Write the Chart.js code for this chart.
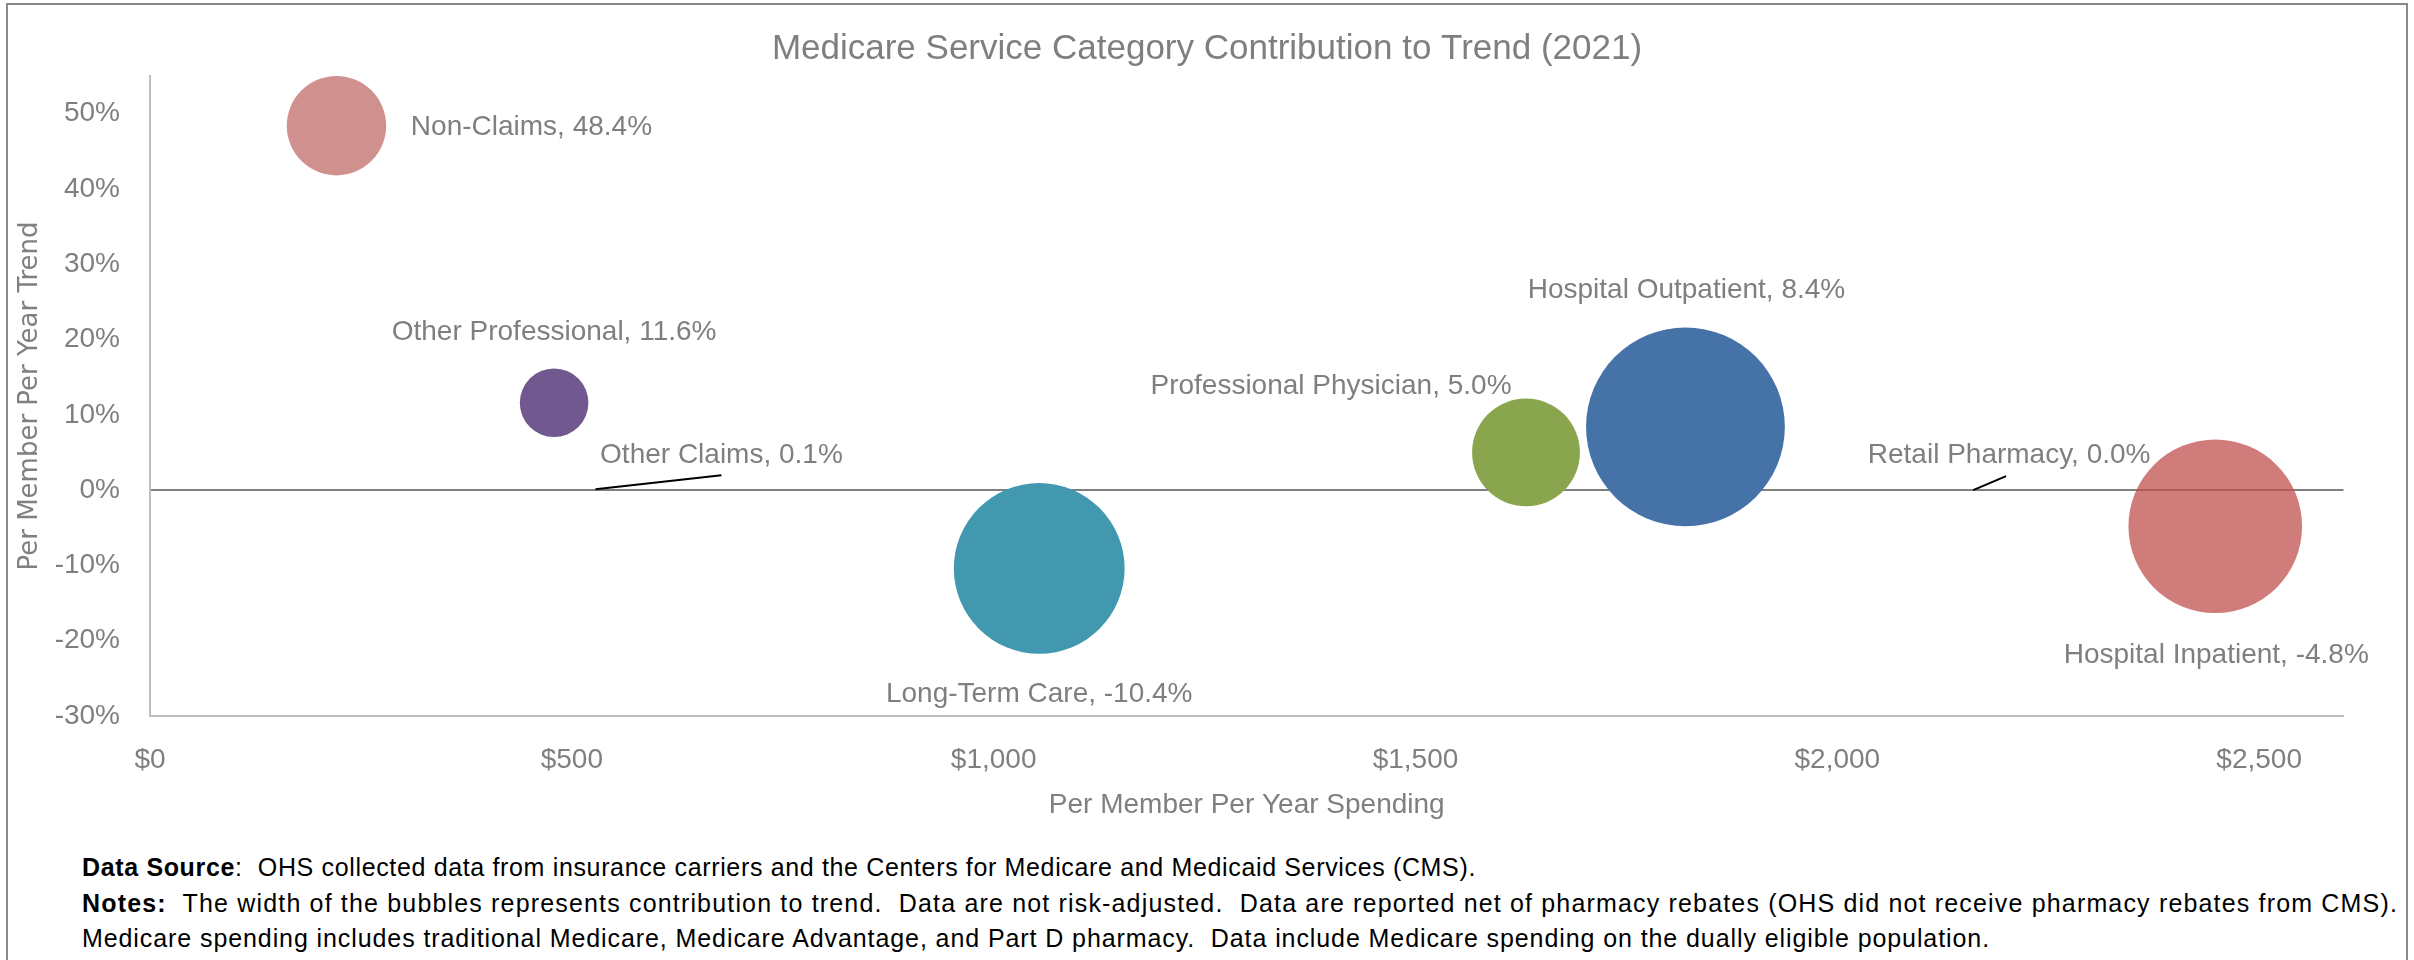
<!DOCTYPE html>
<html>
<head>
<meta charset="utf-8">
<script src="https://cdn.jsdelivr.net/npm/chart.js@4.4.0/dist/chart.umd.min.js"></script>
<style>
  body { margin: 0; background: #fff; width: 2414px; height: 960px; overflow: hidden; position: relative; }
  #frame { position: absolute; left: 6px; top: 3px; width: 2398px; height: 1000px; border: 2px solid #8a8a8a; }
  #chart { position: absolute; left: 0; top: 0; }
  .note { position: absolute; left: 82px; font-family: "Liberation Sans", Arial, sans-serif; font-size: 25px; line-height: 35px; color: #000; white-space: pre; }
</style>
</head>
<body>
<div id="frame"></div>
<canvas id="chart" width="2414" height="840"></canvas>
<div class="note" id="note1" style="top:850px"><b>Data Source</b>:  OHS collected data from insurance carriers and the Centers for Medicare and Medicaid Services (CMS).</div>
<div class="note" id="note2" style="top:886px"><b>Notes:</b>  The width of the bubbles represents contribution to trend.  Data are not risk-adjusted.  Data are reported net of pharmacy rebates (OHS did not receive pharmacy rebates from CMS).</div>
<div class="note" id="note3" style="top:921px">Medicare spending includes traditional Medicare, Medicare Advantage, and Part D pharmacy.  Data include Medicare spending on the dually eligible population.</div>
<script>
// service categories
const categories = ["Non-Claims", "Other Professional", "Other Claims", "Long-Term Care",
  "Professional Physician", "Hospital Outpatient", "Retail Pharmacy", "Hospital Inpatient"];
// per member per year spending ($)
const spending = [221, 479, 528, 1054, 1631, 1820, 2161, 2448];
// per member per year trend (%)
const trend = [48.4, 11.6, 0.1, -10.4, 5.0, 8.4, 0.0, -4.8];
// contribution to trend ($ PMPY change), drives bubble width
const contribution = [71, 49, 0.5, -122, 77, 142, 0, -124];

// axis ticks
const xTickValues = [0, 500, 1000, 1500, 2000, 2500];
const yTickValues = [-30, -20, -10, 0, 10, 20, 30, 40, 50];

const bubbleColors = ["#cf908e", "#71588f", "#71588f", "#4198af",
  "#89a54e", "#4572a7", "#4572a7", "rgba(192,80,77,0.75)"];

// where each data label sits, relative to its bubble centre (px)
const labelOffsets = [
  { dx: 195, dy: 2 },
  { dx: 0, dy: -70 },
  { dx: 126, dy: -34, lead: [126, -14] },
  { dx: 0, dy: 126 },
  { dx: -195, dy: -66 },
  { dx: 1, dy: -137 },
  { dx: 36, dy: -35, lead: [33, -14] },
  { dx: 1, dy: 129 }
];

const PX_PER_DOLLAR = 1.4;
const FONT = '"Liberation Sans", Arial, sans-serif';
const GREY = "#7f7f7f";

const points = categories.map((c, i) => ({
  x: spending[i],
  y: trend[i],
  r: Math.abs(contribution[i]) * PX_PER_DOLLAR / 2
}));

const labelPlugin = {
  id: "bubbleLabels",
  afterDatasetsDraw(chart) {
    const c = chart.ctx;
    const meta = chart.getDatasetMeta(0);
    c.save();
    meta.data.forEach((pt, i) => {
      const off = labelOffsets[i];
      if (off.lead) {
        c.strokeStyle = "#000";
        c.lineWidth = 2;
        c.beginPath();
        c.moveTo(pt.x, pt.y);
        c.lineTo(pt.x + off.lead[0], pt.y + off.lead[1]);
        c.stroke();
      }
      c.font = "28px " + FONT;
      c.fillStyle = GREY;
      c.textAlign = "center";
      c.textBaseline = "middle";
      c.fillText(categories[i] + ", " + trend[i].toFixed(1) + "%", pt.x + off.dx, pt.y + off.dy);
    });
    c.restore();
  }
};

const ctx = document.getElementById("chart");

new Chart(ctx, {
  type: "bubble",
  data: {
    datasets: [
      {
        data: points,
        backgroundColor: bubbleColors,
        borderWidth: 0,
        hoverBorderWidth: 0,
        hoverRadius: 0,
        clip: false
      }
    ]
  },
  options: {
    responsive: false,
    animation: false,
    devicePixelRatio: 1,
    layout: { autoPadding: false, padding: 0 },
    plugins: {
      legend: { display: false },
      tooltip: { enabled: false },
      title: {
        display: true,
        text: "Medicare Service Category Contribution to Trend (2021)",
        color: GREY,
        font: { family: FONT, size: 35, weight: "normal" },
        padding: { top: 28, bottom: 6 }
      }
    },
    scales: {
      x: {
        type: "linear",
        min: 0,
        max: 2600,
        grid: { color: "rgba(0,0,0,0)", drawTicks: false },
        border: { color: "#bfbfbf", width: 2 },
        afterBuildTicks: (s) => { s.ticks = xTickValues.map((v) => ({ value: v })); },
        ticks: {
          padding: 27,
          color: GREY,
          font: { family: FONT, size: 28 },
          callback: (v) => "$" + v.toLocaleString("en-US")
        },
        title: {
          display: true,
          text: "Per Member Per Year Spending",
          color: GREY,
          font: { family: FONT, size: 28 },
          padding: { top: 0, bottom: 18.2 }
        },
        afterFit: (s) => { s.height = 124; }
      },
      y: {
        min: -30,
        max: 55,
        grid: {
          color: (c) => (c.tick && c.tick.value === 0 ? "#808080" : "rgba(0,0,0,0)"),
          lineWidth: 2,
          drawTicks: false
        },
        border: { color: "#bfbfbf", width: 2 },
        afterBuildTicks: (s) => { s.ticks = yTickValues.map((v) => ({ value: v })); },
        ticks: {
          padding: 30,
          color: GREY,
          font: { family: FONT, size: 28 },
          callback: (v) => v + "%"
        },
        title: {
          display: true,
          text: "Per Member Per Year Trend",
          color: "#808080",
          font: { family: '"DejaVu Sans", sans-serif', size: 26 },
          padding: { top: 15, bottom: 0 }
        },
        afterFit: (s) => { s.width = 150; }
      },
      // empty right-hand strip so the plot stops short of the frame
      // while the title stays centred on the full page
      spacer: {
        type: "linear",
        position: "right",
        grid: { display: false },
        border: { display: false },
        ticks: { display: false },
        afterFit: (s) => { s.width = 70.5; }
      }
    }
  },
  plugins: [labelPlugin]
});

// footnote lines are squeezed like the original, each to its own width
function fitNote(id, target) {
  const el = document.getElementById(id);
  const w = el.getBoundingClientRect().width;
  el.style.letterSpacing = ((target - w) / el.textContent.length) + "px";
}
fitNote("note1", 1394);
fitNote("note2", 2316);
fitNote("note3", 1908);
</script>
</body>
</html>
